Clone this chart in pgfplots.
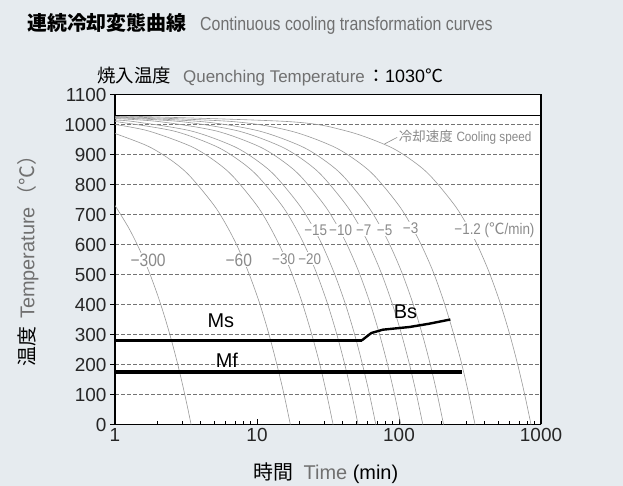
\documentclass[border=0pt]{standalone}
\usepackage{pgfplots}
\pgfplotsset{compat=1.18}
\usepackage{fontspec}
\setmainfont{Liberation Sans}
\newfontfamily\cjk{Noto Sans CJK JP}
\newfontfamily\cond[FakeStretch=0.87]{Liberation Sans}
\newfontfamily\condt[FakeStretch=0.84]{Liberation Sans}
\definecolor{bg}{HTML}{E6EBEF}
\definecolor{curve}{HTML}{9A9A9A}
\definecolor{txtgray}{HTML}{707070}
\definecolor{lblgray}{HTML}{8A8A8A}
\tikzset{
  lbl/.style={font=\fontsize{15.5}{18}\selectfont\cond, text=lblgray, fill=white, inner sep=1bp},
  lblbig/.style={font=\fontsize{18}{20}\selectfont\cond, text=lblgray, fill=white, inner sep=1bp},
  cc/.style={curve, line width=0.6bp, smooth},
}

\begin{document}
\begin{tikzpicture}[x=1bp,y=1bp]
\fill[bg] (0,0) rectangle (623,486);

% titles
\node[anchor=base west, inner sep=0] at (27,455.5) {\fontsize{20}{24}\selectfont\cjk\bfseries 連続冷却変態曲線};
\node[anchor=base west, inner sep=0, text=txtgray] at (200,455.5) {\fontsize{19}{22}\selectfont\condt Continuous cooling transformation curves};
\node[anchor=base west, inner sep=0] at (97,403) {\fontsize{18.5}{22}\selectfont\cjk 焼入温度};
\node[anchor=base west, inner sep=0, text=txtgray] at (183,403) {\fontsize{17}{20}\selectfont Quenching Temperature};
\node[anchor=base west, inner sep=0] at (367,403) {\fontsize{18}{22}\selectfont{\cjk ：}1030{\cjk ℃}};

% axis labels
\node[rotate=90, inner sep=0] at (28,230) {\fontsize{20}{24}\selectfont{\cjk 温度}\hspace{8bp}{\color{txtgray}Temperature\hspace{2bp}\cjk （℃）}};
\node[inner sep=0] at (326,13) {\fontsize{20}{24}\selectfont{\cjk 時間}\hspace{10bp}{\color{txtgray}Time} (min)};

\begin{axis}[
    at={(115bp,61.5bp)}, anchor=south west,
    scale only axis, width=426bp, height=330bp,
    xmode=log,
    xmin=1, xmax=1000, ymin=0, ymax=1100,
    xtick={1,10,100,1000}, xticklabels={1,10,100,1000},
    ytick={0,100,...,1100},
    xtick pos=bottom, ytick pos=left,
    xtick align=inside, ytick align=outside,
    major tick length=5bp, minor tick length=3.5bp,
    tick style={black, line width=0.8bp},
    separate axis lines,
    x axis line style={line width=1.6bp},
    y axis line style={line width=1.1bp},
    axis background/.style={fill=white},
    ymajorgrids,
    grid style={black!55, dash pattern=on 3.5bp off 2.5bp, line width=0.6bp},
    /pgf/number format/assume math mode=true,
    /pgf/number format/1000 sep={},
    tick label style={font=\fontsize{19}{19}\selectfont, text=black!85},
]

% cooling curves (rate in C/min)
\addplot[cc] coordinates {(1,730) (1.25,655) (1.5,580) (1.75,505) (2,430) (2.25,355) (2.5,280) (2.75,205) (3,130) (3.25,55) (3.433,0)};
\addplot[cc] coordinates {(1,970) (1.72,927) (2.58,875.5) (3.43,824) (5.15,721) (6.87,618) (8.58,515) (10.3,412) (12.0,309) (13.7,206) (15.45,103) (17.17,0)};
\addplot[cc] coordinates {(1,1000) (1.72,978.5) (3.43,927) (5.15,875.5) (6.87,824) (10.3,721) (13.7,618) (17.2,515) (20.6,412) (24.0,309) (27.5,206) (30.9,103) (34.33,0)};
\addplot[cc] coordinates {(1,1010) (2.58,978.5) (5.15,927) (7.73,875.5) (10.3,824) (15.45,721) (20.6,618) (25.75,515) (30.9,412) (36.05,309) (41.2,206) (46.35,103) (51.5,0)};
\addplot[cc] coordinates {(1,1015) (1.37,1009.4) (3.43,978.5) (6.87,927) (10.3,875.5) (13.73,824) (20.6,721) (27.5,618) (34.3,515) (41.2,412) (48.1,309) (54.9,206) (61.8,103) (68.67,0)};
\addplot[cc] coordinates {(1,1020) (2.06,1009.4) (5.15,978.5) (10.3,927) (15.45,875.5) (20.6,824) (30.9,721) (41.2,618) (51.5,515) (61.8,412) (72.1,309) (82.4,206) (92.7,103) (103,0)};
\addplot[cc] coordinates {(1,1023) (2.94,1009.4) (7.36,978.5) (14.7,927) (22.1,875.5) (29.4,824) (44.1,721) (58.9,618) (73.6,515) (88.3,412) (103,309) (117.7,206) (132.4,103) (147.1,0)};
\addplot[cc] coordinates {(1,1025) (4.12,1009.4) (10.3,978.5) (20.6,927) (30.9,875.5) (41.2,824) (61.8,721) (82.4,618) (103,515) (123.6,412) (144.2,309) (164.8,206) (185.4,103) (206,0)};
\addplot[cc] coordinates {(1,1027) (6.87,1009.4) (17.2,978.5) (34.3,927) (51.5,875.5) (68.7,824) (103,721) (137,618) (172,515) (206,412) (240,309) (275,206) (309,103) (343,0)};
\addplot[cc] coordinates {(1,1029) (17,1009.4) (42.5,978.5) (85,927) (127.5,875.5) (170,824) (255,721) (340,618) (425,515) (510,412) (595,309) (680,206) (765,103) (850,0)};

% quenching temperature
\addplot[black, line width=1.3bp] coordinates {(1,1030) (1000,1030)};

% curve labels
\node[lblbig] at (axis cs:1.71,548) {−300};
\node[lblbig] at (axis cs:7.45,548) {−60};
\node[lbl] at (axis cs:15.4,552) {−30};
\node[lbl] at (axis cs:23.5,552) {−20};
\node[lbl] at (axis cs:25.9,648) {−15};
\node[lbl] at (axis cs:38.8,648) {−10};
\node[lbl] at (axis cs:56.4,648) {−7};
\node[lbl] at (axis cs:79.2,648) {−5};
\node[lbl] at (axis cs:120.7,655) {−3};
\node[lbl] at (axis cs:470,648) {−1.2 ({\cjk ℃}/min)};
\draw[lblgray, line width=0.6bp] (axis cs:79,935) -- (axis cs:97,957);
\node[anchor=west, inner sep=1bp, text=lblgray] at (axis cs:98,957) {\fontsize{13.5}{16}\selectfont{\cjk 冷却速度} \cond Cooling speed};

% Ms, Bs, Mf
\addplot[black, line width=3.3bp] coordinates {(1,280) (54.6,280)};
\addplot[black, line width=2.4bp] coordinates {(54.6,280) (58.8,292) (63.9,305) (76.9,316) (118.6,325) (163.6,336) (230,350)};
\addplot[black, line width=4bp] coordinates {(1,176) (277,176)};
\node at (axis cs:5.57,345) {\fontsize{20}{24}\selectfont Ms};
\node at (axis cs:6.13,215) {\fontsize{20}{24}\selectfont Mf};
\node at (axis cs:111,375) {\fontsize{20}{24}\selectfont Bs};
\end{axis}

\pgfresetboundingbox
\useasboundingbox (0,0) rectangle (623,486);
\end{tikzpicture}
\end{document}
